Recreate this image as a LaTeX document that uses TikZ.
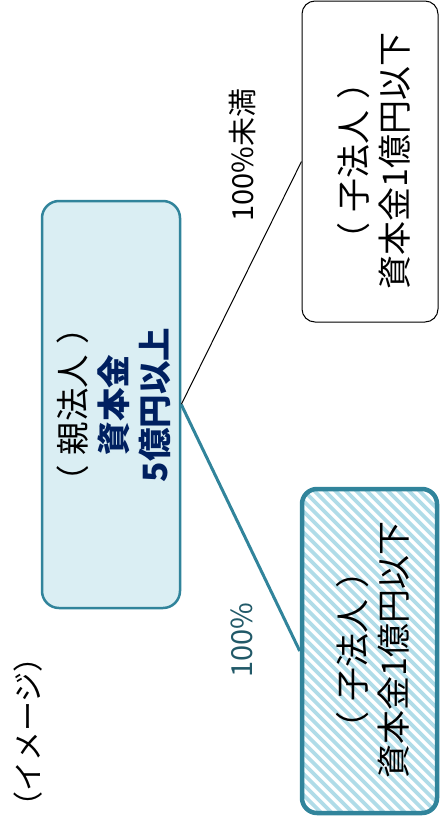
\documentclass[tikz,border=0pt]{standalone}
\usepackage{fontspec}
\setmainfont{Noto Sans CJK JP}
\usetikzlibrary{calc}
\definecolor{tealline}{HTML}{31849B}
\definecolor{lightfill}{HTML}{DAEEF3}
\definecolor{navytext}{HTML}{002060}
\definecolor{stripecol}{HTML}{B0DCE8}
\definecolor{darkteal}{HTML}{215968}
\newcommand\LPa{（\kern.3em}
\newcommand\RPa{\kern.3em）}
\begin{document}
\begin{tikzpicture}[x=1pt,y=-1pt,
  parentbox/.style={draw=tealline, line width=2.5pt, fill=lightfill, rounded corners=17pt, minimum width=138pt, minimum height=407pt, inner sep=0pt},
  childplain/.style={draw=black, line width=1pt, fill=white, rounded corners=13pt, minimum width=136pt, minimum height=321pt, inner sep=0pt},
  childhatch/.style={draw=tealline, line width=4.5pt, fill=white, rounded corners=15pt, minimum width=135pt, minimum height=324pt, inner sep=0pt,
    path picture={
      \foreach \k in {-40,...,20}{
        \draw[stripecol, line width=3.6pt] ($(path picture bounding box.north west)+(\k*10.5pt,0pt)$) -- ++(420pt,-420pt);
      }
    }},
  vtext/.style={rotate=90, align=center, inner sep=0pt},
]
\useasboundingbox (0,0) rectangle (440,827);

\node[parentbox] (P) at (111,404.5) {};
\node[childplain] (C1) at (370,161.5) {};
\node[childhatch] (C2) at (369.5,651) {};

\draw[black, line width=1pt] (P.east) -- (C1.west);
\draw[tealline, line width=3pt] (P.east) -- (C2.west);

\node[vtext, font=\fontsize{33.5}{41}\selectfont] (PT) at (114,405)
  {\LPa 親法人\RPa\\{\bfseries\color{navytext}資本金}\\{\bfseries\color{navytext}5億円以上}};
\node[vtext, font=\fontsize{34}{41}\selectfont] (C1T) at (374,161)
  {\LPa 子法人\RPa\\資本金1億円以下};
\node[vtext, font=\fontsize{34}{41}\selectfont] (C2T) at (373,650)
  {\LPa 子法人\RPa\\資本金1億円以下};

\node[vtext, font=\fontsize{29}{35}\selectfont] (L1) at (242,155) {100\%未満};
\node[vtext, font=\fontsize{29}{35}\selectfont, text=darkteal] (L2) at (242,640) {100\%};
\node[vtext, font=\fontsize{30}{36}\selectfont] (IM) at (28,732) {（イメージ）};
\end{tikzpicture}
\end{document}
